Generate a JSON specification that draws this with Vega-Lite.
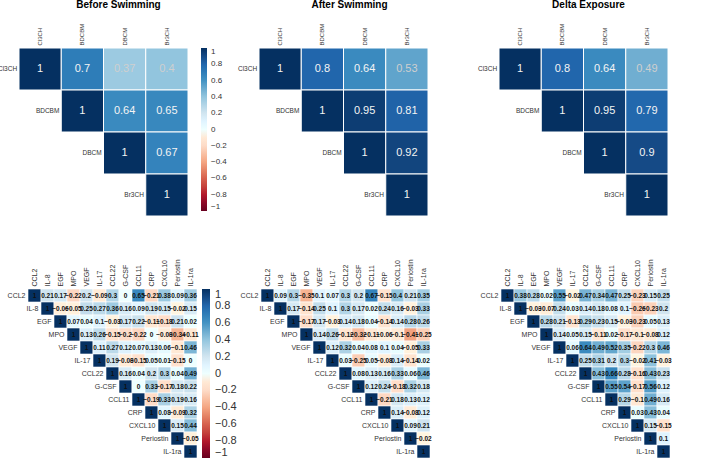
{
"$schema":"https://vega.github.io/schema/vega-lite/v6.json",
"padding":{"left":-3,"top":0,"right":0,"bottom":0},
"spacing":41,
"config":{"view":{"stroke":null},"font":"Liberation Sans"},
"resolve":{"scale":{"color":"independent"},"legend":{"color":"independent"}},
"datasets":{
"tb":[{"row":"Cl3CH","col":"Cl3CH","r":1},{"row":"Cl3CH","col":"BDCBM","r":0.7},{"row":"Cl3CH","col":"DBCM","r":0.37},{"row":"Cl3CH","col":"Br3CH","r":0.4},{"row":"BDCBM","col":"BDCBM","r":1},{"row":"BDCBM","col":"DBCM","r":0.64},{"row":"BDCBM","col":"Br3CH","r":0.65},{"row":"DBCM","col":"DBCM","r":1},{"row":"DBCM","col":"Br3CH","r":0.67},{"row":"Br3CH","col":"Br3CH","r":1}],
"ta":[{"row":"Cl3CH","col":"Cl3CH","r":1},{"row":"Cl3CH","col":"BDCBM","r":0.8},{"row":"Cl3CH","col":"DBCM","r":0.64},{"row":"Cl3CH","col":"Br3CH","r":0.53},{"row":"BDCBM","col":"BDCBM","r":1},{"row":"BDCBM","col":"DBCM","r":0.95},{"row":"BDCBM","col":"Br3CH","r":0.81},{"row":"DBCM","col":"DBCM","r":1},{"row":"DBCM","col":"Br3CH","r":0.92},{"row":"Br3CH","col":"Br3CH","r":1}],
"td":[{"row":"Cl3CH","col":"Cl3CH","r":1},{"row":"Cl3CH","col":"BDCBM","r":0.8},{"row":"Cl3CH","col":"DBCM","r":0.64},{"row":"Cl3CH","col":"Br3CH","r":0.49},{"row":"BDCBM","col":"BDCBM","r":1},{"row":"BDCBM","col":"DBCM","r":0.95},{"row":"BDCBM","col":"Br3CH","r":0.79},{"row":"DBCM","col":"DBCM","r":1},{"row":"DBCM","col":"Br3CH","r":0.9},{"row":"Br3CH","col":"Br3CH","r":1}],
"bb":[{"row":"CCL2","col":"CCL2","r":1},{"row":"CCL2","col":"IL-8","r":0.21},{"row":"CCL2","col":"EGF","r":0.17},{"row":"CCL2","col":"MPO","r":-0.22},{"row":"CCL2","col":"VEGF","r":0.2},{"row":"CCL2","col":"IL-17","r":-0.09},{"row":"CCL2","col":"CCL22","r":0.3},{"row":"CCL2","col":"G-CSF","r":0},{"row":"CCL2","col":"CCL11","r":0.65},{"row":"CCL2","col":"CRP","r":-0.21},{"row":"CCL2","col":"CXCL10","r":0.38},{"row":"CCL2","col":"Periostin","r":0.09},{"row":"CCL2","col":"IL-1ra","r":0.36},
{"row":"IL-8","col":"IL-8","r":1},{"row":"IL-8","col":"EGF","r":-0.06},{"row":"IL-8","col":"MPO","r":-0.05},{"row":"IL-8","col":"VEGF","r":0.25},{"row":"IL-8","col":"IL-17","r":0.27},{"row":"IL-8","col":"CCL22","r":0.36},{"row":"IL-8","col":"G-CSF","r":0.16},{"row":"IL-8","col":"CCL11","r":0.09},{"row":"IL-8","col":"CRP","r":0.19},{"row":"IL-8","col":"CXCL10","r":0.15},{"row":"IL-8","col":"Periostin","r":-0.02},{"row":"IL-8","col":"IL-1ra","r":0.15},
{"row":"EGF","col":"EGF","r":1},{"row":"EGF","col":"MPO","r":0.07},{"row":"EGF","col":"VEGF","r":0.04},{"row":"EGF","col":"IL-17","r":0.1},{"row":"EGF","col":"CCL22","r":-0.03},{"row":"EGF","col":"G-CSF","r":0.17},{"row":"EGF","col":"CCL11","r":0.22},{"row":"EGF","col":"CRP","r":-0.11},{"row":"EGF","col":"CXCL10","r":-0.18},{"row":"EGF","col":"Periostin","r":0.21},{"row":"EGF","col":"IL-1ra","r":0.02},
{"row":"MPO","col":"MPO","r":1},{"row":"MPO","col":"VEGF","r":0.13},{"row":"MPO","col":"IL-17","r":0.26},{"row":"MPO","col":"CCL22","r":-0.15},{"row":"MPO","col":"G-CSF","r":-0.2},{"row":"MPO","col":"CCL11","r":-0.22},{"row":"MPO","col":"CRP","r":0},{"row":"MPO","col":"CXCL10","r":-0.08},{"row":"MPO","col":"Periostin","r":-0.34},{"row":"MPO","col":"IL-1ra","r":-0.11},
{"row":"VEGF","col":"VEGF","r":1},{"row":"VEGF","col":"IL-17","r":0.11},{"row":"VEGF","col":"CCL22","r":0.27},{"row":"VEGF","col":"G-CSF","r":0.12},{"row":"VEGF","col":"CCL11","r":0.07},{"row":"VEGF","col":"CRP","r":0.13},{"row":"VEGF","col":"CXCL10","r":0.06},{"row":"VEGF","col":"Periostin","r":-0.1},{"row":"VEGF","col":"IL-1ra","r":0.46},
{"row":"IL-17","col":"IL-17","r":1},{"row":"IL-17","col":"CCL22","r":0.19},{"row":"IL-17","col":"G-CSF","r":-0.08},{"row":"IL-17","col":"CCL11","r":-0.15},{"row":"IL-17","col":"CRP","r":0.05},{"row":"IL-17","col":"CXCL10","r":0.01},{"row":"IL-17","col":"Periostin","r":-0.15},{"row":"IL-17","col":"IL-1ra","r":0},
{"row":"CCL22","col":"CCL22","r":1},{"row":"CCL22","col":"G-CSF","r":0.16},{"row":"CCL22","col":"CCL11","r":0.04},{"row":"CCL22","col":"CRP","r":0.2},{"row":"CCL22","col":"CXCL10","r":0.3},{"row":"CCL22","col":"Periostin","r":0.04},{"row":"CCL22","col":"IL-1ra","r":0.49},
{"row":"G-CSF","col":"G-CSF","r":1},{"row":"G-CSF","col":"CCL11","r":0},{"row":"G-CSF","col":"CRP","r":0.33},{"row":"G-CSF","col":"CXCL10","r":-0.17},{"row":"G-CSF","col":"Periostin","r":0.18},{"row":"G-CSF","col":"IL-1ra","r":0.22},
{"row":"CCL11","col":"CCL11","r":1},{"row":"CCL11","col":"CRP","r":-0.19},{"row":"CCL11","col":"CXCL10","r":0.33},{"row":"CCL11","col":"Periostin","r":0.19},{"row":"CCL11","col":"IL-1ra","r":0.16},
{"row":"CRP","col":"CRP","r":1},{"row":"CRP","col":"CXCL10","r":0.08},{"row":"CRP","col":"Periostin","r":-0.09},{"row":"CRP","col":"IL-1ra","r":0.32},
{"row":"CXCL10","col":"CXCL10","r":1},{"row":"CXCL10","col":"Periostin","r":0.15},{"row":"CXCL10","col":"IL-1ra","r":0.44},
{"row":"Periostin","col":"Periostin","r":1},{"row":"Periostin","col":"IL-1ra","r":-0.05},
{"row":"IL-1ra","col":"IL-1ra","r":1}],
"ba":[{"row":"CCL2","col":"CCL2","r":1},{"row":"CCL2","col":"IL-8","r":0.09},{"row":"CCL2","col":"EGF","r":0.3},{"row":"CCL2","col":"MPO","r":-0.35},{"row":"CCL2","col":"VEGF","r":0.1},{"row":"CCL2","col":"IL-17","r":0.07},{"row":"CCL2","col":"CCL22","r":0.3},{"row":"CCL2","col":"G-CSF","r":0.2},{"row":"CCL2","col":"CCL11","r":0.67},{"row":"CCL2","col":"CRP","r":-0.15},{"row":"CCL2","col":"CXCL10","r":0.4},{"row":"CCL2","col":"Periostin","r":0.21},{"row":"CCL2","col":"IL-1ra","r":0.35},
{"row":"IL-8","col":"IL-8","r":1},{"row":"IL-8","col":"EGF","r":0.17},{"row":"IL-8","col":"MPO","r":-0.14},{"row":"IL-8","col":"VEGF","r":0.25},{"row":"IL-8","col":"IL-17","r":0.1},{"row":"IL-8","col":"CCL22","r":0.3},{"row":"IL-8","col":"G-CSF","r":0.17},{"row":"IL-8","col":"CCL11","r":0.02},{"row":"IL-8","col":"CRP","r":0.24},{"row":"IL-8","col":"CXCL10","r":0.16},{"row":"IL-8","col":"Periostin","r":-0.03},{"row":"IL-8","col":"IL-1ra","r":0.33},
{"row":"EGF","col":"EGF","r":1},{"row":"EGF","col":"MPO","r":-0.17},{"row":"EGF","col":"VEGF","r":0.17},{"row":"EGF","col":"IL-17","r":-0.03},{"row":"EGF","col":"CCL22","r":0.14},{"row":"EGF","col":"G-CSF","r":0.18},{"row":"EGF","col":"CCL11","r":0.04},{"row":"EGF","col":"CRP","r":-0.14},{"row":"EGF","col":"CXCL10","r":0.14},{"row":"EGF","col":"Periostin","r":0.28},{"row":"EGF","col":"IL-1ra","r":0.26},
{"row":"MPO","col":"MPO","r":1},{"row":"MPO","col":"VEGF","r":0.14},{"row":"MPO","col":"IL-17","r":0.26},{"row":"MPO","col":"CCL22","r":-0.12},{"row":"MPO","col":"G-CSF","r":-0.32},{"row":"MPO","col":"CCL11","r":-0.11},{"row":"MPO","col":"CRP","r":-0.06},{"row":"MPO","col":"CXCL10","r":-0.1},{"row":"MPO","col":"Periostin","r":-0.41},{"row":"MPO","col":"IL-1ra","r":-0.25},
{"row":"VEGF","col":"VEGF","r":1},{"row":"VEGF","col":"IL-17","r":0.12},{"row":"VEGF","col":"CCL22","r":0.32},{"row":"VEGF","col":"G-CSF","r":0.04},{"row":"VEGF","col":"CCL11","r":0.08},{"row":"VEGF","col":"CRP","r":0.1},{"row":"VEGF","col":"CXCL10","r":0.04},{"row":"VEGF","col":"Periostin","r":-0.05},{"row":"VEGF","col":"IL-1ra","r":0.33},
{"row":"IL-17","col":"IL-17","r":1},{"row":"IL-17","col":"CCL22","r":0.03},{"row":"IL-17","col":"G-CSF","r":-0.25},{"row":"IL-17","col":"CCL11","r":0.05},{"row":"IL-17","col":"CRP","r":-0.08},{"row":"IL-17","col":"CXCL10","r":0.14},{"row":"IL-17","col":"Periostin","r":-0.14},{"row":"IL-17","col":"IL-1ra","r":0.02},
{"row":"CCL22","col":"CCL22","r":1},{"row":"CCL22","col":"G-CSF","r":0.08},{"row":"CCL22","col":"CCL11","r":0.13},{"row":"CCL22","col":"CRP","r":0.16},{"row":"CCL22","col":"CXCL10","r":0.33},{"row":"CCL22","col":"Periostin","r":0.06},{"row":"CCL22","col":"IL-1ra","r":0.46},
{"row":"G-CSF","col":"G-CSF","r":1},{"row":"G-CSF","col":"CCL11","r":0.12},{"row":"G-CSF","col":"CRP","r":0.24},{"row":"G-CSF","col":"CXCL10","r":-0.18},{"row":"G-CSF","col":"Periostin","r":0.32},{"row":"G-CSF","col":"IL-1ra","r":0.18},
{"row":"CCL11","col":"CCL11","r":1},{"row":"CCL11","col":"CRP","r":-0.21},{"row":"CCL11","col":"CXCL10","r":0.18},{"row":"CCL11","col":"Periostin","r":0.13},{"row":"CCL11","col":"IL-1ra","r":0.12},
{"row":"CRP","col":"CRP","r":1},{"row":"CRP","col":"CXCL10","r":0.14},{"row":"CRP","col":"Periostin","r":-0.08},{"row":"CRP","col":"IL-1ra","r":0.12},
{"row":"CXCL10","col":"CXCL10","r":1},{"row":"CXCL10","col":"Periostin","r":0.09},{"row":"CXCL10","col":"IL-1ra","r":0.21},
{"row":"Periostin","col":"Periostin","r":1},{"row":"Periostin","col":"IL-1ra","r":-0.02},
{"row":"IL-1ra","col":"IL-1ra","r":1}],
"bd":[{"row":"CCL2","col":"CCL2","r":1},{"row":"CCL2","col":"IL-8","r":0.38},{"row":"CCL2","col":"EGF","r":0.28},{"row":"CCL2","col":"MPO","r":0.02},{"row":"CCL2","col":"VEGF","r":0.55},{"row":"CCL2","col":"IL-17","r":-0.02},{"row":"CCL2","col":"CCL22","r":0.47},{"row":"CCL2","col":"G-CSF","r":0.34},{"row":"CCL2","col":"CCL11","r":0.47},{"row":"CCL2","col":"CRP","r":0.25},{"row":"CCL2","col":"CXCL10","r":-0.23},{"row":"CCL2","col":"Periostin","r":0.15},{"row":"CCL2","col":"IL-1ra","r":0.25},
{"row":"IL-8","col":"IL-8","r":1},{"row":"IL-8","col":"EGF","r":-0.03},{"row":"IL-8","col":"MPO","r":-0.07},{"row":"IL-8","col":"VEGF","r":0.24},{"row":"IL-8","col":"IL-17","r":0.03},{"row":"IL-8","col":"CCL22","r":0.14},{"row":"IL-8","col":"G-CSF","r":0.18},{"row":"IL-8","col":"CCL11","r":0.08},{"row":"IL-8","col":"CRP","r":0.1},{"row":"IL-8","col":"CXCL10","r":-0.26},{"row":"IL-8","col":"Periostin","r":-0.23},{"row":"IL-8","col":"IL-1ra","r":0.2},
{"row":"EGF","col":"EGF","r":1},{"row":"EGF","col":"MPO","r":0.28},{"row":"EGF","col":"VEGF","r":0.21},{"row":"EGF","col":"IL-17","r":-0.13},{"row":"EGF","col":"CCL22","r":0.29},{"row":"EGF","col":"G-CSF","r":0.23},{"row":"EGF","col":"CCL11","r":0.15},{"row":"EGF","col":"CRP","r":-0.03},{"row":"EGF","col":"CXCL10","r":-0.23},{"row":"EGF","col":"Periostin","r":0.05},{"row":"EGF","col":"IL-1ra","r":0.13},
{"row":"MPO","col":"MPO","r":1},{"row":"MPO","col":"VEGF","r":0.14},{"row":"MPO","col":"IL-17","r":0.05},{"row":"MPO","col":"CCL22","r":0.15},{"row":"MPO","col":"G-CSF","r":-0.11},{"row":"MPO","col":"CCL11","r":0.02},{"row":"MPO","col":"CRP","r":-0.17},{"row":"MPO","col":"CXCL10","r":-0.1},{"row":"MPO","col":"Periostin","r":-0.08},{"row":"MPO","col":"IL-1ra","r":0.12},
{"row":"VEGF","col":"VEGF","r":1},{"row":"VEGF","col":"IL-17","r":0.06},{"row":"VEGF","col":"CCL22","r":0.64},{"row":"VEGF","col":"G-CSF","r":0.49},{"row":"VEGF","col":"CCL11","r":0.52},{"row":"VEGF","col":"CRP","r":0.35},{"row":"VEGF","col":"CXCL10","r":-0.22},{"row":"VEGF","col":"Periostin","r":0.3},{"row":"VEGF","col":"IL-1ra","r":0.46},
{"row":"IL-17","col":"IL-17","r":1},{"row":"IL-17","col":"CCL22","r":0.25},{"row":"IL-17","col":"G-CSF","r":0.31},{"row":"IL-17","col":"CCL11","r":0.2},{"row":"IL-17","col":"CRP","r":0.3},{"row":"IL-17","col":"CXCL10","r":-0.02},{"row":"IL-17","col":"Periostin","r":0.41},{"row":"IL-17","col":"IL-1ra","r":-0.03},
{"row":"CCL22","col":"CCL22","r":1},{"row":"CCL22","col":"G-CSF","r":0.43},{"row":"CCL22","col":"CCL11","r":0.66},{"row":"CCL22","col":"CRP","r":0.28},{"row":"CCL22","col":"CXCL10","r":-0.16},{"row":"CCL22","col":"Periostin","r":0.43},{"row":"CCL22","col":"IL-1ra","r":0.23},
{"row":"G-CSF","col":"G-CSF","r":1},{"row":"G-CSF","col":"CCL11","r":0.55},{"row":"G-CSF","col":"CRP","r":0.54},{"row":"G-CSF","col":"CXCL10","r":-0.17},{"row":"G-CSF","col":"Periostin","r":0.56},{"row":"G-CSF","col":"IL-1ra","r":0.12},
{"row":"CCL11","col":"CCL11","r":1},{"row":"CCL11","col":"CRP","r":0.29},{"row":"CCL11","col":"CXCL10","r":-0.1},{"row":"CCL11","col":"Periostin","r":0.49},{"row":"CCL11","col":"IL-1ra","r":0.16},
{"row":"CRP","col":"CRP","r":1},{"row":"CRP","col":"CXCL10","r":0.03},{"row":"CRP","col":"Periostin","r":0.43},{"row":"CRP","col":"IL-1ra","r":0.04},
{"row":"CXCL10","col":"CXCL10","r":1},{"row":"CXCL10","col":"Periostin","r":0.15},{"row":"CXCL10","col":"IL-1ra","r":-0.15},
{"row":"Periostin","col":"Periostin","r":1},{"row":"Periostin","col":"IL-1ra","r":0.1},
{"row":"IL-1ra","col":"IL-1ra","r":1}]
},
"vconcat":[
{"hconcat":[
{"width":169,"height":168,"data":{"name":"tb"},
 "title":{"text":"Before Swimming","frame":"group","anchor":"middle","dx":15,"fontSize":10,"fontWeight":"bold","color":"#000","offset":13},
 "layer":[
  {"mark":{"type":"rect","stroke":"white","strokeWidth":1},
   "encoding":{"x":{"field":"col","type":"nominal","scale":{"domain":["Cl3CH","BDCBM","DBCM","Br3CH"]},"axis":{"orient":"top","title":null,"domain":false,"ticks":false,"labelAngle":-90,"labelAlign":"left","labelBaseline":"middle","labelFontSize":6,"labelColor":"#333","labelPadding":3}},
    "y":{"field":"row","type":"nominal","scale":{"domain":["Cl3CH","BDCBM","DBCM","Br3CH"]},"axis":null},
    "color":{"field":"r","type":"quantitative","scale":{"domain":[-1,-0.8,-0.6,-0.4,-0.2,0,0.2,0.4,0.6,0.8,1],"range":["#67001F","#B2182B","#D6604D","#F4A582","#FDDBC7","#FFFFFF","#D1E5F0","#92C5DE","#4393C3","#2166AC","#053061"]},
     "legend":{"orient":"right","offset":13,"padding":0,"direction":"vertical","gradientLength":163,"gradientThickness":6,"gradientStrokeWidth":0,"values":[1,0.8,0.6,0.4,0.2,0,-0.2,-0.4,-0.6,-0.8,-1],"format":"~g","labelFontSize":8,"labelColor":"#333","labelOverlap":false,"labelOffset":4,"title":null}}}},
  {"mark":{"type":"text","fontSize":11},
   "encoding":{"x":{"field":"col","type":"nominal"},"y":{"field":"row","type":"nominal"},"text":{"field":"r","type":"quantitative"},"color":{"condition":{"test":"datum.r < 0.6","value":"#cfcfcf"},"value":"#f4f4f4"}}},
  {"transform":[{"filter":"datum.row === datum.col"}],
   "mark":{"type":"text","align":"right","dx":-23,"fontSize":6.5,"color":"#333"},
   "encoding":{"x":{"field":"col","type":"nominal"},"y":{"field":"row","type":"nominal"},"text":{"field":"row"}}}
 ]},
{"width":169,"height":168,"data":{"name":"ta"},
 "title":{"text":"After Swimming","frame":"group","anchor":"middle","dx":6,"fontSize":10,"fontWeight":"bold","color":"#000","offset":13},
 "layer":[
  {"mark":{"type":"rect","stroke":"white","strokeWidth":1},
   "encoding":{"x":{"field":"col","type":"nominal","scale":{"domain":["Cl3CH","BDCBM","DBCM","Br3CH"]},"axis":{"orient":"top","title":null,"domain":false,"ticks":false,"labelAngle":-90,"labelAlign":"left","labelBaseline":"middle","labelFontSize":6,"labelColor":"#333","labelPadding":3}},
    "y":{"field":"row","type":"nominal","scale":{"domain":["Cl3CH","BDCBM","DBCM","Br3CH"]},"axis":null},
    "color":{"field":"r","type":"quantitative","scale":{"domain":[-1,-0.8,-0.6,-0.4,-0.2,0,0.2,0.4,0.6,0.8,1],"range":["#67001F","#B2182B","#D6604D","#F4A582","#FDDBC7","#FFFFFF","#D1E5F0","#92C5DE","#4393C3","#2166AC","#053061"]},"legend":null}}},
  {"mark":{"type":"text","fontSize":11},
   "encoding":{"x":{"field":"col","type":"nominal"},"y":{"field":"row","type":"nominal"},"text":{"field":"r","type":"quantitative"},"color":{"condition":{"test":"datum.r < 0.6","value":"#cfcfcf"},"value":"#f4f4f4"}}},
  {"transform":[{"filter":"datum.row === datum.col"}],
   "mark":{"type":"text","align":"right","dx":-23,"fontSize":6.5,"color":"#333"},
   "encoding":{"x":{"field":"col","type":"nominal"},"y":{"field":"row","type":"nominal"},"text":{"field":"row"}}}
 ]},
{"width":169,"height":168,"data":{"name":"td"},
 "title":{"text":"Delta Exposure","frame":"group","anchor":"middle","dx":5,"fontSize":10,"fontWeight":"bold","color":"#000","offset":13},
 "layer":[
  {"mark":{"type":"rect","stroke":"white","strokeWidth":1},
   "encoding":{"x":{"field":"col","type":"nominal","scale":{"domain":["Cl3CH","BDCBM","DBCM","Br3CH"]},"axis":{"orient":"top","title":null,"domain":false,"ticks":false,"labelAngle":-90,"labelAlign":"left","labelBaseline":"middle","labelFontSize":6,"labelColor":"#333","labelPadding":3}},
    "y":{"field":"row","type":"nominal","scale":{"domain":["Cl3CH","BDCBM","DBCM","Br3CH"]},"axis":null},
    "color":{"field":"r","type":"quantitative","scale":{"domain":[-1,-0.8,-0.6,-0.4,-0.2,0,0.2,0.4,0.6,0.8,1],"range":["#67001F","#B2182B","#D6604D","#F4A582","#FDDBC7","#FFFFFF","#D1E5F0","#92C5DE","#4393C3","#2166AC","#053061"]},"legend":null}}},
  {"mark":{"type":"text","fontSize":11},
   "encoding":{"x":{"field":"col","type":"nominal"},"y":{"field":"row","type":"nominal"},"text":{"field":"r","type":"quantitative"},"color":{"condition":{"test":"datum.r < 0.6","value":"#cfcfcf"},"value":"#f4f4f4"}}},
  {"transform":[{"filter":"datum.row === datum.col"}],
   "mark":{"type":"text","align":"right","dx":-23,"fontSize":6.5,"color":"#333"},
   "encoding":{"x":{"field":"col","type":"nominal"},"y":{"field":"row","type":"nominal"},"text":{"field":"row"}}}
 ]}
],"spacing":71,"bounds":"flush","resolve":{"scale":{"color":"independent"},"legend":{"color":"independent"}}},
{"hconcat":[
{"width":8.5,"height":169,"data":{"values":[]},"mark":{"type":"point","opacity":0},"encoding":{}},
{"width":169,"height":169,"data":{"name":"bb"},
 "layer":[
  {"mark":{"type":"rect","stroke":"white","strokeWidth":0.6},
   "encoding":{"x":{"field":"col","type":"nominal","scale":{"domain":["CCL2","IL-8","EGF","MPO","VEGF","IL-17","CCL22","G-CSF","CCL11","CRP","CXCL10","Periostin","IL-1ra"]},"axis":{"orient":"top","title":null,"domain":false,"ticks":false,"labelAngle":-90,"labelAlign":"left","labelBaseline":"middle","labelFontSize":7,"labelColor":"#333","labelPadding":3}},
    "y":{"field":"row","type":"nominal","scale":{"domain":["CCL2","IL-8","EGF","MPO","VEGF","IL-17","CCL22","G-CSF","CCL11","CRP","CXCL10","Periostin","IL-1ra"]},"axis":null},
    "color":{"field":"r","type":"quantitative","scale":{"domain":[-1,-0.8,-0.6,-0.4,-0.2,0,0.2,0.4,0.6,0.8,1],"range":["#67001F","#B2182B","#D6604D","#F4A582","#FDDBC7","#FFFFFF","#D1E5F0","#92C5DE","#4393C3","#2166AC","#053061"]},
     "legend":{"orient":"right","offset":5,"padding":0,"direction":"vertical","gradientLength":169,"gradientThickness":8,"gradientStrokeWidth":0,"values":[1,0.8,0.6,0.4,0.2,0,-0.2,-0.4,-0.6,-0.8,-1],"format":"~g","labelFontSize":11,"labelColor":"#333","labelOverlap":false,"labelOffset":5,"title":null}}}},
  {"mark":{"type":"text","fontSize":6.5,"fontWeight":"bold","color":"#111"},
   "encoding":{"x":{"field":"col","type":"nominal"},"y":{"field":"row","type":"nominal"},"text":{"field":"r","type":"quantitative"}}},
  {"transform":[{"filter":"datum.row === datum.col"}],
   "mark":{"type":"text","align":"right","dx":-9,"fontSize":7,"color":"#333"},
   "encoding":{"x":{"field":"col","type":"nominal"},"y":{"field":"row","type":"nominal"},"text":{"field":"row"}}}
 ]},
{"width":63.5,"height":169,"data":{"values":[]},"mark":{"type":"point","opacity":0},"encoding":{}},
{"width":169,"height":169,"data":{"name":"ba"},
 "layer":[
  {"mark":{"type":"rect","stroke":"white","strokeWidth":0.6},
   "encoding":{"x":{"field":"col","type":"nominal","scale":{"domain":["CCL2","IL-8","EGF","MPO","VEGF","IL-17","CCL22","G-CSF","CCL11","CRP","CXCL10","Periostin","IL-1ra"]},"axis":{"orient":"top","title":null,"domain":false,"ticks":false,"labelAngle":-90,"labelAlign":"left","labelBaseline":"middle","labelFontSize":7,"labelColor":"#333","labelPadding":3}},
    "y":{"field":"row","type":"nominal","scale":{"domain":["CCL2","IL-8","EGF","MPO","VEGF","IL-17","CCL22","G-CSF","CCL11","CRP","CXCL10","Periostin","IL-1ra"]},"axis":null},
    "color":{"field":"r","type":"quantitative","scale":{"domain":[-1,-0.8,-0.6,-0.4,-0.2,0,0.2,0.4,0.6,0.8,1],"range":["#67001F","#B2182B","#D6604D","#F4A582","#FDDBC7","#FFFFFF","#D1E5F0","#92C5DE","#4393C3","#2166AC","#053061"]},"legend":null}}},
  {"mark":{"type":"text","fontSize":6.5,"fontWeight":"bold","color":"#111"},
   "encoding":{"x":{"field":"col","type":"nominal"},"y":{"field":"row","type":"nominal"},"text":{"field":"r","type":"quantitative"}}},
  {"transform":[{"filter":"datum.row === datum.col"}],
   "mark":{"type":"text","align":"right","dx":-9,"fontSize":7,"color":"#333"},
   "encoding":{"x":{"field":"col","type":"nominal"},"y":{"field":"row","type":"nominal"},"text":{"field":"row"}}}
 ]},
{"width":71,"height":169,"data":{"values":[]},"mark":{"type":"point","opacity":0},"encoding":{}},
{"width":169,"height":169,"data":{"name":"bd"},
 "layer":[
  {"mark":{"type":"rect","stroke":"white","strokeWidth":0.6},
   "encoding":{"x":{"field":"col","type":"nominal","scale":{"domain":["CCL2","IL-8","EGF","MPO","VEGF","IL-17","CCL22","G-CSF","CCL11","CRP","CXCL10","Periostin","IL-1ra"]},"axis":{"orient":"top","title":null,"domain":false,"ticks":false,"labelAngle":-90,"labelAlign":"left","labelBaseline":"middle","labelFontSize":7,"labelColor":"#333","labelPadding":3}},
    "y":{"field":"row","type":"nominal","scale":{"domain":["CCL2","IL-8","EGF","MPO","VEGF","IL-17","CCL22","G-CSF","CCL11","CRP","CXCL10","Periostin","IL-1ra"]},"axis":null},
    "color":{"field":"r","type":"quantitative","scale":{"domain":[-1,-0.8,-0.6,-0.4,-0.2,0,0.2,0.4,0.6,0.8,1],"range":["#67001F","#B2182B","#D6604D","#F4A582","#FDDBC7","#FFFFFF","#D1E5F0","#92C5DE","#4393C3","#2166AC","#053061"]},"legend":null}}},
  {"mark":{"type":"text","fontSize":6.5,"fontWeight":"bold","color":"#111"},
   "encoding":{"x":{"field":"col","type":"nominal"},"y":{"field":"row","type":"nominal"},"text":{"field":"r","type":"quantitative"}}},
  {"transform":[{"filter":"datum.row === datum.col"}],
   "mark":{"type":"text","align":"right","dx":-9,"fontSize":7,"color":"#333"},
   "encoding":{"x":{"field":"col","type":"nominal"},"y":{"field":"row","type":"nominal"},"text":{"field":"row"}}}
 ]}
],"spacing":0,"bounds":"flush","resolve":{"scale":{"color":"independent"},"legend":{"color":"independent"}}}
]
}
